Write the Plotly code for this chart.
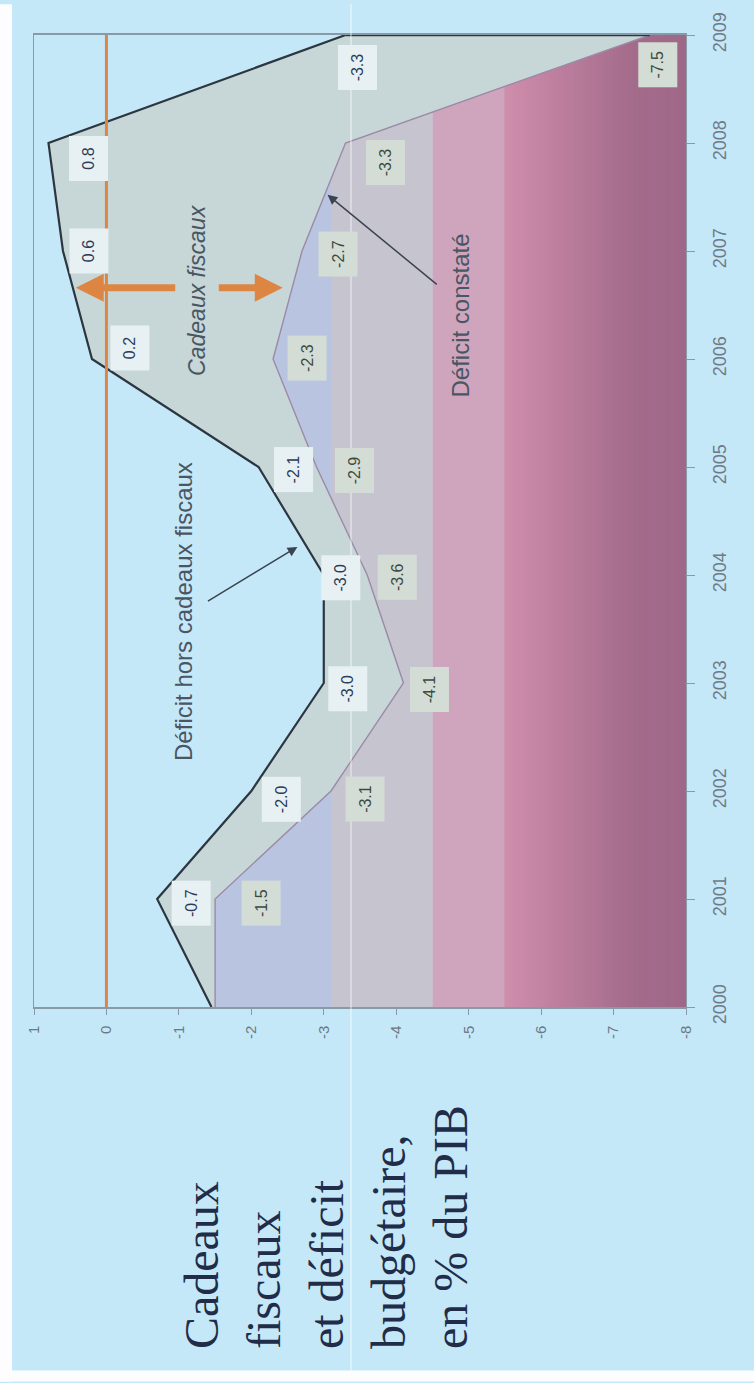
import numpy as np
import plotly.graph_objects as go

# ---------------- data ----------------
years = [2000, 2001, 2002, 2003, 2004, 2005, 2006, 2007, 2008, 2009]
deficit_hors_cadeaux = [-1.45, -0.7, -2.0, -3.0, -3.0, -2.1, 0.2, 0.6, 0.8, -3.3]
deficit_constate = [-1.5, -1.5, -3.1, -4.1, -3.6, -2.9, -2.3, -2.7, -3.3, -7.5]
value_ticks = [1, 0, -1, -2, -3, -4, -5, -6, -7, -8]
value_tick_labels = ["1", "0", "-1", "-2", "-3", "-4", "-5", "-6", "-7", "-8"]
year_tick_labels = ["2000", "2001", "2002", "2003", "2004", "2005", "2006", "2007", "2008", "2009"]
band_edges = [1, -3.1, -4.5, -5.5]
title_lines = ["Cadeaux", "fiscaux", "et déficit", "budgétaire,", "en % du PIB"]
label_years = [2001, 2002, 2003, 2004, 2005, 2006, 2007, 2008, 2009]

# ---------------- styling ----------------
W, H = 754, 1383
L, R, T, B = 34, 68, 31, 376
PW, PH = W - L - R, H - T - B
SANS = "Liberation Sans, Arial, sans-serif"
SERIF = "Liberation Serif, Times New Roman, serif"
BG = "#c4e8f8"
BETWEEN = "#c7d7d8"
band_colors = ["#b9c4e0", "#c6c4cf", "#cfa5be"]
ORANGE = "#dd8644"


def px_x(p):
    return (p - L) / PW


def px_y(p):
    return (T + PH - p) / PH


# per-label pixel offsets (dx right, dy down) - styling only
upper_shift = {2001: (34, 4), 2002: (30, 8), 2003: (24, 6), 2004: (17, 3), 2005: (35, 3),
               2006: (38, -11), 2007: (26, 0), 2008: (40, 15), 2009: (12, 33)}
lower_shift = {2001: (46, 4), 2002: (34, 8), 2003: (26, 6), 2004: (30, 2), 2005: (38, 4),
               2006: (34, -1), 2007: (36, 3), 2008: (40, 20), 2009: (8, 30)}

fig = go.Figure()

# area from top of scale down to the "hors cadeaux" line (background colour)
fig.add_trace(go.Scatter(
    x=[value_ticks[0]] + deficit_hors_cadeaux + [value_ticks[0]],
    y=[years[0]] + years + [years[-1]],
    fill="toself", fillcolor=BG, mode="lines", line=dict(width=0),
    hoverinfo="skip", showlegend=False))

# area between the two lines: "cadeaux fiscaux"
fig.add_trace(go.Scatter(
    x=deficit_hors_cadeaux + deficit_constate[::-1],
    y=years + years[::-1],
    fill="toself", fillcolor=BETWEEN, mode="lines", line=dict(width=0),
    hoverinfo="skip", showlegend=False))

# déficit constaté line
fig.add_trace(go.Scatter(x=deficit_constate, y=years, mode="lines",
                         line=dict(color="#9c8aa6", width=1.4),
                         hoverinfo="skip", showlegend=False))
# déficit hors cadeaux fiscaux line
fig.add_trace(go.Scatter(x=deficit_hors_cadeaux, y=years, mode="lines",
                         line=dict(color="#2c3640", width=2.2),
                         hoverinfo="skip", showlegend=False))
# closing edge at last year
fig.add_trace(go.Scatter(x=[deficit_hors_cadeaux[-1], deficit_constate[-1]],
                         y=[years[-1], years[-1]], mode="lines",
                         line=dict(color="#2c3640", width=2.4),
                         hoverinfo="skip", showlegend=False))

shapes = []
# page: white margins left and bottom
shapes.append(dict(type="rect", xref="paper", yref="paper", x0=px_x(0), x1=px_x(12),
                   y0=px_y(H), y1=px_y(0), fillcolor="#fdfdff", line=dict(width=0), layer="below"))
shapes.append(dict(type="rect", xref="paper", yref="paper", x0=px_x(0), x1=px_x(W),
                   y0=px_y(H), y1=px_y(1372), fillcolor="#fdfdff", line=dict(width=0), layer="below"))

# colour bands under the déficit constaté area
for i in range(len(band_colors)):
    shapes.append(dict(type="rect", xref="x", yref="paper", x0=band_edges[i], x1=band_edges[i + 1],
                       y0=0, y1=1, fillcolor=band_colors[i], line=dict(width=0), layer="below"))


def lerp(c1, c2, t):
    return tuple(int(round(a + (b - a) * t)) for a, b in zip(c1, c2))


# smooth gradient band
c_start, c_mid, c_end = (208, 141, 172), (164, 108, 139), (159, 104, 136)
edges = np.linspace(band_edges[-1], value_ticks[-1], 51)
for k in range(len(edges) - 1):
    a, b = edges[k], edges[k + 1]
    m = (a + b) / 2
    if m > -7.25:
        col = lerp(c_start, c_mid, (band_edges[-1] - m) / (band_edges[-1] + 7.25))
    else:
        col = lerp(c_mid, c_end, (-7.25 - m) / 0.75)
    shapes.append(dict(type="rect", xref="x", yref="paper", x0=a, x1=b - 0.02,
                       y0=0, y1=1, fillcolor="rgb(%d,%d,%d)" % col,
                       line=dict(width=1, color="rgb(%d,%d,%d)" % col), layer="below"))

# zero line
shapes.append(dict(type="line", xref="x", yref="paper", x0=0, x1=0, y0=0, y1=1,
                   line=dict(color=ORANGE, width=3), layer="above"))
# faint white scan line
shapes.append(dict(type="line", xref="paper", yref="paper", x0=px_x(351), x1=px_x(351),
                   y0=px_y(1372), y1=px_y(0), line=dict(color="rgba(255,255,255,0.75)", width=1),
                   layer="above"))

annotations = []
# value labels
for i, yr in enumerate(years):
    if yr not in label_years:
        continue
    v = deficit_hors_cadeaux[i]
    dx, dy = upper_shift[yr]
    annotations.append(dict(x=v, y=yr, xref="x", yref="y", text=f"{v:.1f}", showarrow=False,
                            textangle=-90, font=dict(size=16, color="#2d3b57", family=SANS),
                            bgcolor="#e7f1f4", width=42, height=36, xshift=dx, yshift=-dy))
    v2 = deficit_constate[i]
    dx, dy = lower_shift[yr]
    annotations.append(dict(x=v2, y=yr, xref="x", yref="y", text=f"{v2:.1f}", showarrow=False,
                            textangle=-90, font=dict(size=16, color="#3b4a3e", family=SANS),
                            bgcolor="#d4ddd5", width=42, height=36, xshift=dx, yshift=-dy))

# text notes
annotations.append(dict(x=-1.25, y=2006.64, xref="x", yref="y", text="<i>Cadeaux fiscaux</i>",
                        showarrow=False, textangle=-90,
                        font=dict(size=23, color="#4a5662", family=SANS)))
annotations.append(dict(x=-1.06, y=2003.66, xref="x", yref="y", text="Déficit hors cadeaux fiscaux",
                        showarrow=False, textangle=-90,
                        font=dict(size=24, color="#4a5662", family=SANS)))
annotations.append(dict(x=-4.89, y=2006.40, xref="x", yref="y", text="Déficit constaté",
                        showarrow=False, textangle=-90,
                        font=dict(size=24, color="#4a5662", family=SANS)))

# pointer arrows to the lines
hy1 = 2004.26
annotations.append(dict(x=float(np.interp(hy1, years, deficit_hors_cadeaux)) + 0.13, y=hy1,
                        xref="x", yref="y", ax=-1.38, ay=2003.75, axref="x", ayref="y",
                        text="", showarrow=True, arrowhead=2, arrowsize=1.3, arrowwidth=1.5,
                        arrowcolor="#3a4450"))
hy2 = 2007.52
annotations.append(dict(x=float(np.interp(hy2, years, deficit_constate)) - 0.04, y=hy2,
                        xref="x", yref="y", ax=-4.58, ay=2006.68, axref="x", ayref="y",
                        text="", showarrow=True, arrowhead=2, arrowsize=1.3, arrowwidth=1.5,
                        arrowcolor="#3a4450"))

# orange "cadeaux fiscaux" arrows
ay_or = 2006.66
annotations.append(dict(x=float(np.interp(ay_or, years, deficit_hors_cadeaux)) - 0.04, y=ay_or,
                        xref="x", yref="y", ax=-0.97, ay=ay_or, axref="x", ayref="y",
                        text="", showarrow=True, arrowhead=2, arrowsize=0.8, arrowwidth=7,
                        arrowcolor=ORANGE))
annotations.append(dict(x=float(np.interp(ay_or, years, deficit_constate)) + 0.13, y=ay_or,
                        xref="x", yref="y", ax=-1.53, ay=ay_or, axref="x", ayref="y",
                        text="", showarrow=True, arrowhead=2, arrowsize=0.8, arrowwidth=7,
                        arrowcolor=ORANGE))

# title
annotations.append(dict(x=px_x(326), y=px_y(1228), xref="paper", yref="paper",
                        text="<br>".join(title_lines), showarrow=False, textangle=-90,
                        align="left", xanchor="center", yanchor="middle",
                        font=dict(size=48, color="#212d48", family=SERIF)))

fig.update_layout(
    width=W, height=H,
    margin=dict(l=L, r=R, t=T, b=B, pad=0),
    paper_bgcolor=BG, plot_bgcolor=BG,
    shapes=shapes, annotations=annotations,
    showlegend=False,
    xaxis=dict(range=[value_ticks[0], value_ticks[-1]], tickmode="array", tickvals=value_ticks,
               ticktext=value_tick_labels, tickangle=-90, ticks="outside", ticklen=6,
               tickcolor="#8a99a6", showline=True, linecolor="#8a99a6", linewidth=1.5,
               mirror=True, showgrid=False, zeroline=False, ticklabelstandoff=5,
               tickfont=dict(size=15, color="#6c7884", family=SANS)),
    yaxis=dict(range=[years[0], years[-1]], tickmode="array", tickvals=years,
               ticktext=year_tick_labels, side="right", tickangle=-90, ticks="outside",
               ticklen=8, tickcolor="#8a99a6", showline=True, linecolor="#8a99a6",
               linewidth=1, mirror=True, showgrid=False, zeroline=False,
               ticklabelstandoff=9,
               tickfont=dict(size=18, color="#6f7b86", family=SANS)),
)

fig.write_html("out.html")
